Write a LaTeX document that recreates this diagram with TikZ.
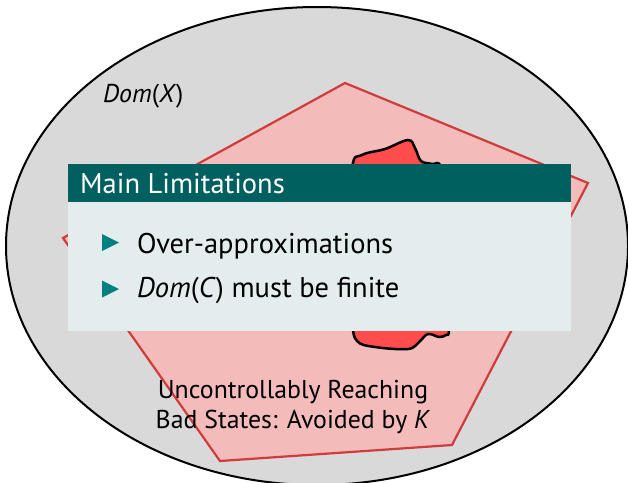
\documentclass[tikz,border=0pt]{standalone}
\usepackage{fontspec}
\setmainfont{PT Sans}
\usepackage{tikz}
\usetikzlibrary{positioning}
\definecolor{domgray}{HTML}{D9D9D9}
\definecolor{badfill}{HTML}{F4BBBB}
\definecolor{badline}{HTML}{D13B3B}
\definecolor{blobred}{HTML}{FF4D4D}
\definecolor{headteal}{HTML}{005F5F}
\definecolor{bodyteal}{HTML}{E4EDED}
\definecolor{bulteal}{HTML}{008080}

\begin{document}
\begin{tikzpicture}[x=1pt,y=-1pt,
                domarea/.style={draw=black,fill=domgray,line width=2pt},
                badarea/.style={draw=badline,fill=badfill,line width=2.2pt,line join=miter},
                blob/.style={draw=black,fill=blobred,line width=2.5pt},
                blkhead/.style={fill=headteal,inner sep=0pt,anchor=north west},
                blkbody/.style={fill=bodyteal,inner sep=0pt,anchor=north west},
                ttl/.style={text=white,inner sep=0pt,anchor=base west,
                    font=\fontsize{28.5}{32}\selectfont},
                itm/.style={inner sep=0pt,anchor=base west,
                    font=\fontsize{28.5}{32}\selectfont},
                lbl/.style={inner sep=0pt,font=\fontsize{25.8}{30}\selectfont}]
                \useasboundingbox (0,0) rectangle (628,482);
                \clip (0,0) rectangle (628,482);
                % domain and regions
                \draw[domarea] (317,246) ellipse [x radius=311, y radius=239];
                \draw[badarea] (345,83) -- (588,183) -- (452,445) -- (220,461) -- (63,238) -- cycle;
                \draw[blob] plot[smooth cycle, tension=0.6] coordinates {
                    (352,168) (362,155) (385,149) (408,140) (415,148) (421,161)
                    (432,164) (441,168) (446,220) (449,290) (449,330) (446,335)
                    (439,337) (428,334) (419,342) (408,349) (375,347) (357,341)
                    (352,320) (347,250)};
                \node[lbl,anchor=base west] (domx) at (103,102) {\textit{Dom}(\textit{X})};
                \node[lbl,align=center,anchor=base] (bad) at (293,428)
                    {Uncontrollably Reaching\\Bad States: Avoided by \textit{K}};
                % block
                \node[blkbody,minimum width=503pt,minimum height=167pt] (body) at (68,164) {};
                \node[blkhead,minimum width=503pt,minimum height=38pt] (head) at (68,164) {};
                \node[ttl] (title) at (80,193) {Main Limitations};
                \node[itm] (it1) at (137,253) {Over-approximations};
                \node[itm] (it2) at (137,297) {\textit{Dom}(\textit{C}) must be finite};
                \coordinate (b1) at (102,242.5);
                \coordinate (b2) at (102,289);
                \foreach \b in {b1,b2}
                    \fill[bulteal] (\b) ++(0,-8.5) -- ++(17,8.5) -- ++(-17,8.5) -- cycle;
            \end{tikzpicture}
\end{document}
